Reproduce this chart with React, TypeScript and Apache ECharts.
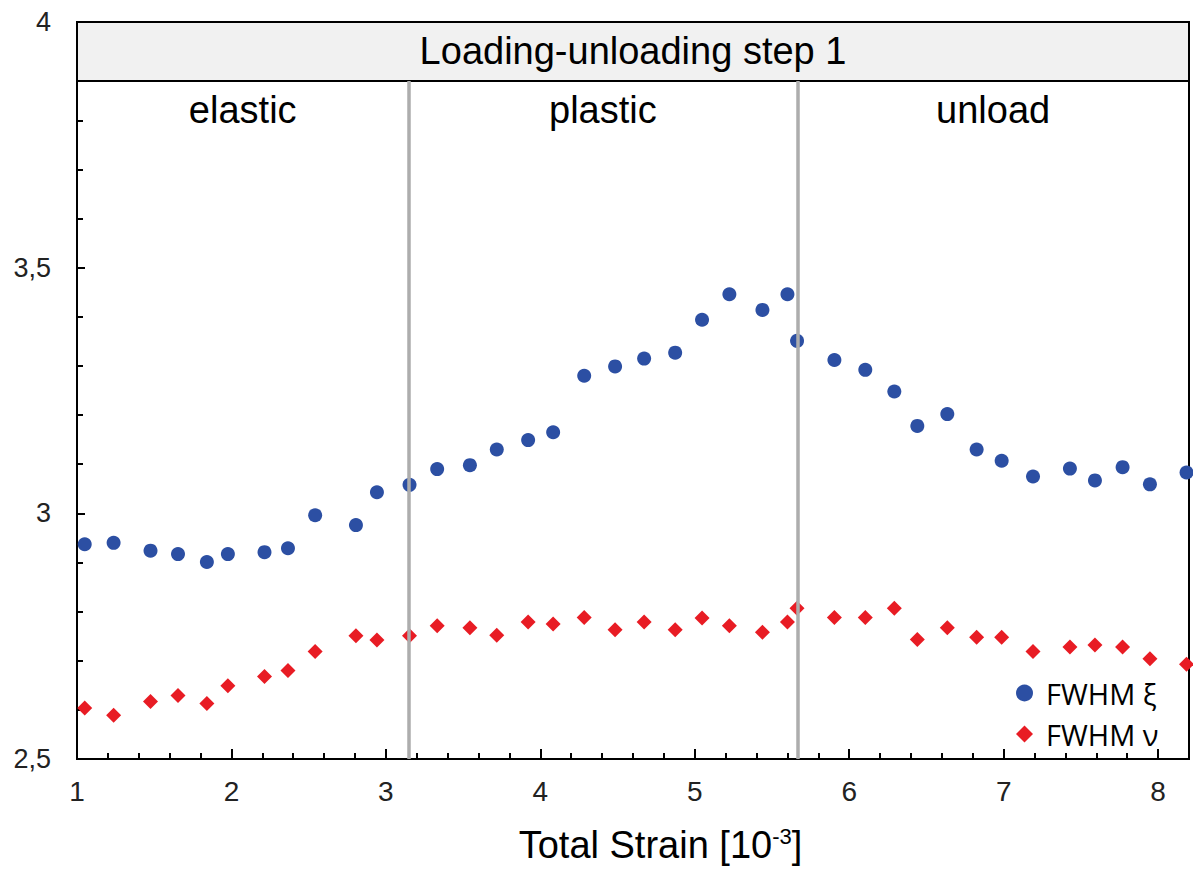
import React, { useEffect, useRef } from "react";
import * as echarts from "echarts";

const strain = [1.05, 1.237, 1.476, 1.654, 1.841, 1.977, 2.214, 2.366, 2.542, 2.806, 2.942, 3.153, 3.332, 3.544, 3.718, 3.921, 4.083, 4.284, 4.484, 4.672, 4.873, 5.047, 5.224, 5.438, 5.6, 5.662, 5.904, 6.104, 6.292, 6.441, 6.635, 6.825, 6.987, 7.19, 7.429, 7.591, 7.77, 7.947, 8.184];
const fwhmXi = [2.937, 2.94, 2.924, 2.917, 2.901, 2.917, 2.921, 2.929, 2.996, 2.976, 3.043, 3.058, 3.09, 3.098, 3.13, 3.149, 3.165, 3.28, 3.299, 3.315, 3.327, 3.394, 3.446, 3.414, 3.446, 3.351, 3.312, 3.292, 3.248, 3.178, 3.202, 3.13, 3.107, 3.075, 3.091, 3.067, 3.094, 3.059, 3.083];
const fwhmNu = [2.604, 2.589, 2.617, 2.629, 2.613, 2.649, 2.668, 2.68, 2.719, 2.751, 2.742, 2.751, 2.771, 2.767, 2.752, 2.779, 2.775, 2.788, 2.763, 2.779, 2.763, 2.787, 2.771, 2.758, 2.779, 2.807, 2.788, 2.788, 2.807, 2.743, 2.767, 2.748, 2.748, 2.719, 2.728, 2.732, 2.728, 2.704, 2.693];
const phaseNames = ["elastic", "plastic", "unload"];
const phaseBounds = [1, 3.146, 5.664, 8.2];
const headerTitle = "Loading-unloading step 1";
const headerBottom = 3.88;
const xMin = 1, xMax = 8.2, yMin = 2.5, yMax = 4;

const FONT = "'Liberation Sans', Arial, sans-serif";

export default function App() {
  const ref = useRef<HTMLDivElement>(null);
  useEffect(() => {
    document.body.style.margin = "0";
    const chart = echarts.init(ref.current!, null, { renderer: "svg" });
    const xiData = strain.map((x, i) => [x, fwhmXi[i]]);
    const nuData = strain.map((x, i) => [x, fwhmNu[i]]);
    const phaseAreas = phaseNames.map((n, i) => [
      { name: n, coord: [phaseBounds[i], yMin] },
      { coord: [phaseBounds[i + 1], headerBottom] },
    ]);
    const dividers = phaseBounds.slice(1, -1).map((b) => [
      { coord: [b, yMin] },
      { coord: [b, headerBottom] },
    ]);
    chart.setOption({
      animation: false,
      textStyle: { fontFamily: FONT },
      grid: {
        left: 77, right: 4, top: 22, bottom: 111,
        show: true, borderColor: "#000", borderWidth: 2, backgroundColor: "#fff",
      },
      legend: {
        orient: "vertical",
        left: 1011,
        top: 673,
        itemWidth: 17,
        itemHeight: 17,
        itemGap: 11,
        textStyle: {
          fontFamily: "'Open Sans', 'Noto Sans', sans-serif", fontSize: 29, color: "#000", lineHeight: 30,
          padding: [0, 0, 0, 8],
        },
        data: ["FWHM ξ", "FWHM ν"],
      },
      xAxis: {
        type: "value",
        min: xMin,
        max: xMax,
        interval: 1,
        name: "Total Strain [10{sup|-3}]",
        nameLocation: "middle",
        nameGap: 66,
        nameTextStyle: {
          fontSize: 38, color: "#000", fontFamily: FONT, lineHeight: 40,
          padding: [0, 0, 0, 55],
          rich: { sup: { fontSize: 22, lineHeight: 40, verticalAlign: "top", padding: [0, 0, 14, 0], color: "#000", fontFamily: FONT } },
        },
        axisLine: { show: true, lineStyle: { color: "#000", width: 2 } },
        axisTick: { show: true, inside: true, length: 10, lineStyle: { color: "#000", width: 2 } },
        minorTick: { show: true, splitNumber: 5, length: 6, lineStyle: { color: "#000", width: 2 } },
        splitLine: { show: false },
        axisLabel: {
          fontSize: 28, color: "#222", margin: 18, fontFamily: FONT,
          formatter: (v: number) => (Number.isInteger(v) ? String(v) : ""),
        },
      },
      yAxis: {
        type: "value",
        min: yMin,
        max: yMax,
        interval: 0.5,
        axisLine: { show: true, lineStyle: { color: "#000", width: 2 } },
        axisTick: { show: true, inside: true, length: 8, lineStyle: { color: "#000", width: 2 } },
        minorTick: { show: true, splitNumber: 5, length: 6, lineStyle: { color: "#000", width: 2 } },
        splitLine: { show: false },
        axisLabel: {
          fontSize: 27, color: "#222", margin: 26, fontFamily: FONT,
          formatter: (v: number) => String(v).replace(".", ","),
        },
      },
      series: [
        {
          name: "FWHM ξ",
          type: "scatter",
          symbol: "circle",
          symbolSize: 14,
          itemStyle: { color: "#2C4FA3", opacity: 1 },
          data: xiData,
          z: 3,
          markArea: {
            silent: true,
            data: [
              [
                { name: headerTitle, coord: [xMin, headerBottom], itemStyle: { color: "#F1F1F1", borderColor: "#000", borderWidth: 2 } },
                { coord: [xMax, yMax] },
              ],
            ],
            label: { show: true, position: "inside", fontSize: 38, color: "#000", fontFamily: FONT },
          },
          markLine: {
            silent: true,
            symbol: "none",
            lineStyle: { color: "#ADADAD", width: 3.5, type: "solid" },
            label: { show: false },
            data: dividers,
          },
        },
        {
          name: "FWHM ν",
          type: "scatter",
          symbol: "diamond",
          symbolSize: 15,
          itemStyle: { color: "#E81C24", opacity: 1 },
          data: nuData,
          z: 3,
          markArea: {
            silent: true,
            itemStyle: { color: "rgba(0,0,0,0)" },
            label: { show: true, position: "insideTop", distance: 10, fontSize: 38, color: "#000", fontFamily: FONT },
            data: phaseAreas,
          },
        },
      ],
    });
    return () => chart.dispose();
  }, []);
  return <div ref={ref} style={{ width: 1193, height: 870 }} />;
}
